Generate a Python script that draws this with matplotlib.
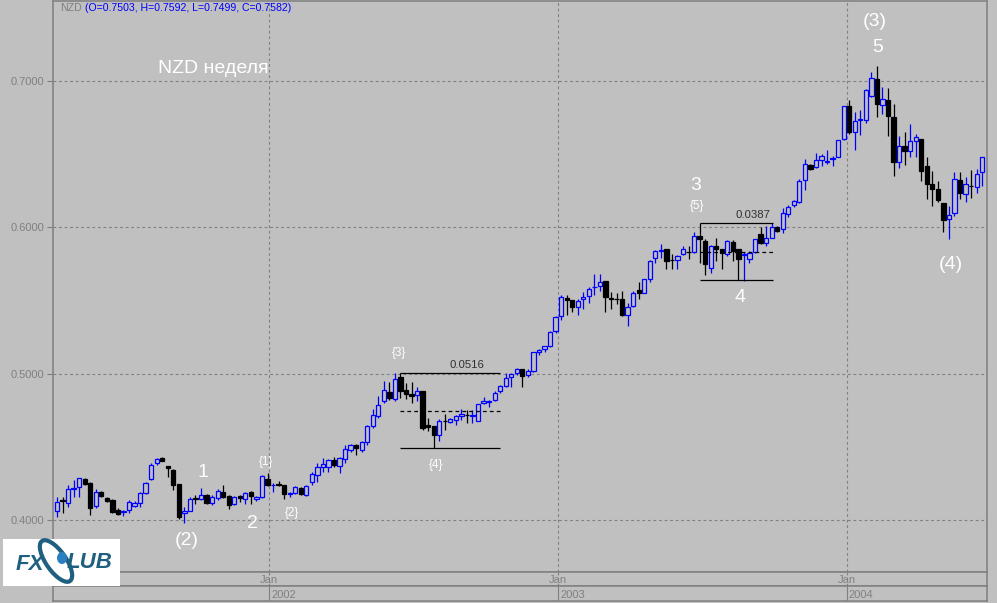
import matplotlib
matplotlib.use("Agg")
import matplotlib.pyplot as plt
import matplotlib.dates as mdates
import numpy as np
from matplotlib.patches import Rectangle, Ellipse

plt.rcParams["font.family"] = ["Liberation Sans", "DejaVu Sans"]

BG = "#C0C0C0"
GRAY = "#808080"
BLUE = "#0000FF"

# weekly NZD bars, first bar dated 2001-04-08
start = np.datetime64("2001-04-08")

opens = [
    .4064, .4135, .4119, .4212, .4228, .4281, .4251, .4096, .4194, .4153,
    .4137, .4068, .4057, .4068, .4096, .4114, .4183, .4279, .4388, .4422,
    .4370, .4342, .4245, .4046, .4064, .4150, .4144, .4171, .4119, .4149,
    .4190, .4164, .4108, .4166, .4142, .4190, .4144, .4156, .4279, .4236,
    .4245, .4240, .4180, .4187, .4217, .4171, .4262, .4308, .4365, .4365,
    .4411, .4370, .4420, .4475, .4514, .4480, .4530, .4639, .4708, .4810,
    .4872, .4827, .4975, .4886, .4863, .4856, .4884, .4651, .4644, .4582,
    .4680, .4673, .4685, .4708, .4720, .4710, .4680, .4799, .4808, .4817,
    .4879, .4918, .4974, .5005, .5032, .4993, .5021, .5146, .5168, .5187,
    .5290, .5393, .5519, .5502, .5457, .5513, .5530, .5590, .5598, .5632,
    .5516, .5510, .5507, .5404, .5461, .5569, .5553, .5644, .5792, .5836,
    .5850, .5776, .5776, .5815, .5834, .5831, .5941, .5906, .5724, .5872,
    .5850, .5815, .5900, .5850, .5812, .5781, .5831, .5952, .5890, .5930,
    .6005, .5986, .6090, .6150, .6174, .6324, .6425, .6413, .6459, .6448,
    .6468, .6478, .6603, .6827, .6653, .6735, .6735, .6900, .7014, .6839,
    .6870, .6752, .6448, .6553, .6523, .6587, .6603, .6416, .6295, .6261,
    .6169, .6056, .6101, .6322, .6231, .6286, .6279, .6375,
]
highs = [
    .4160, .4160, .4240, .4274, .4290, .4290, .4260, .4210, .4200, .4160,
    .4142, .4082, .4070, .4137, .4130, .4194, .4260, .4390, .4425, .4432,
    .4370, .4350, .4245, .4091, .4160, .4171, .4217, .4180, .4170, .4210,
    .4240, .4170, .4165, .4170, .4190, .4197, .4165, .4310, .4320, .4250,
    .4265, .4240, .4190, .4230, .4225, .4240, .4325, .4388, .4423, .4418,
    .4432, .4430, .4513, .4521, .4519, .4537, .4651, .4760, .4849, .4947,
    .4940, .5004, .5005, .4935, .4943, .4910, .4884, .4697, .4644, .4690,
    .4724, .4700, .4720, .4760, .4750, .4750, .4792, .4840, .4820, .4880,
    .4925, .5005, .5005, .5040, .5032, .5030, .5150, .5171, .5192, .5290,
    .5395, .5541, .5541, .5502, .5510, .5555, .5595, .5678, .5678, .5632,
    .5560, .5550, .5564, .5480, .5564, .5628, .5650, .5774, .5845, .5884,
    .5850, .5815, .5809, .5870, .5870, .5971, .5952, .5918, .5877, .5930,
    .5854, .5911, .5911, .5854, .5830, .5840, .5923, .6005, .6010, .6030,
    .6010, .6130, .6150, .6185, .6330, .6466, .6430, .6507, .6500, .6530,
    .6485, .6596, .6830, .6873, .6790, .6800, .6946, .7060, .7101, .6957,
    .6950, .6843, .6622, .6653, .6706, .6640, .6603, .6484, .6386, .6317,
    .6169, .6146, .6375, .6375, .6347, .6393, .6398, .6484,
]
lows = [
    .4018, .4046, .4091, .4160, .4155, .4240, .4034, .4082, .4160, .4125,
    .4050, .4034, .4030, .4046, .4092, .4092, .4180, .4274, .4377, .4400,
    .4297, .4205, .4005, .3977, .4060, .4108, .4140, .4110, .4100, .4140,
    .4150, .4075, .4100, .4120, .4110, .4110, .4130, .4150, .4230, .4190,
    .4230, .4145, .4160, .4180, .4170, .4165, .4240, .4262, .4327, .4327,
    .4365, .4323, .4390, .4468, .4441, .4468, .4514, .4628, .4696, .4801,
    .4822, .4815, .4834, .4827, .4799, .4810, .4612, .4605, .4489, .4543,
    .4616, .4660, .4650, .4685, .4660, .4665, .4676, .4790, .4770, .4810,
    .4870, .4912, .4910, .4990, .4910, .4976, .5010, .5130, .5150, .5180,
    .5276, .5365, .5404, .5424, .5404, .5441, .5486, .5541, .5568, .5420,
    .5439, .5475, .5393, .5324, .5457, .5507, .5550, .5625, .5755, .5792,
    .5713, .5713, .5718, .5809, .5786, .5827, .5758, .5671, .5689, .5770,
    .5718, .5806, .5770, .5641, .5633, .5755, .5827, .5883, .5873, .5925,
    .5970, .5960, .6073, .6142, .6165, .6256, .6395, .6409, .6420, .6432,
    .6416, .6478, .6597, .6637, .6530, .6630, .6710, .6890, .6754, .6774,
    .6626, .6348, .6409, .6425, .6478, .6478, .6317, .6192, .6146, .6174,
    .5968, .5922, .6078, .6192, .6174, .6199, .6233, .6283,
]
closes = [
    .4121, .4130, .4210, .4220, .4286, .4247, .4084, .4194, .4166, .4130,
    .4057, .4041, .4062, .4125, .4114, .4183, .4251, .4377, .4416, .4406,
    .4354, .4240, .4018, .4062, .4142, .4146, .4171, .4119, .4156, .4199,
    .4160, .4103, .4160, .4149, .4183, .4164, .4156, .4301, .4240, .4242,
    .4240, .4176, .4187, .4224, .4178, .4233, .4313, .4365, .4382, .4411,
    .4377, .4423, .4484, .4514, .4491, .4532, .4644, .4719, .4788, .4891,
    .4834, .4966, .4880, .4861, .4845, .4884, .4628, .4635, .4582, .4678,
    .4676, .4690, .4708, .4726, .4715, .4720, .4792, .4815, .4815, .4868,
    .4918, .4971, .4998, .5032, .4986, .5021, .5146, .5164, .5187, .5286,
    .5389, .5526, .5502, .5454, .5495, .5527, .5580, .5594, .5628, .5522,
    .5512, .5507, .5404, .5457, .5553, .5553, .5644, .5769, .5838, .5845,
    .5769, .5774, .5804, .5854, .5831, .5941, .5922, .5747, .5872, .5850,
    .5822, .5906, .5838, .5786, .5818, .5827, .5923, .5890, .5924, .6005,
    .5975, .6101, .6142, .6180, .6318, .6430, .6402, .6459, .6485, .6452,
    .6472, .6596, .6827, .6653, .6728, .6740, .6941, .7019, .6843, .6876,
    .6758, .6448, .6553, .6523, .6587, .6615, .6386, .6295, .6261, .6187,
    .6050, .6086, .6329, .6237, .6295, .6283, .6363, .6478,
]

y_ticks = [0.4, 0.5, 0.6, 0.7]
years = [2002, 2003, 2004]

# fib boxes: start bar, end bar, high, low, label, label bar, label price
fibs = [
    (62, 80.0, 0.5005, 0.4489, "0.0516", 74.0, 0.5057),
    (116, 129.2, 0.6028, 0.5641, "0.0387", 125.6, 0.6084),
]

# wave labels: text, bar position, price, size
waves = [
    ("(2)", 23.5, 0.3863, 14), ("1", 26.35, 0.4322, 14),
    ("2", 35.2, 0.3973, 14), ("{1}", 37.7, 0.4397, 8.5),
    ("{2}", 42.4, 0.4048, 8.5), ("{3}", 61.7, 0.5144, 8.5),
    ("{4}", 68.4, 0.4377, 8.5), ("3", 115.2, 0.6288, 14),
    ("{5}", 115.5, 0.6144, 8.5), ("4", 123.3, 0.5521, 14),
    ("(3)", 147.6, 0.7404, 14), ("5", 148.2, 0.7226, 14),
    ("(4)", 161.4, 0.5747, 14),
]

o, h, l, c = (np.array(a) for a in (opens, highs, lows, closes))
n = len(o)
dates = start + np.arange(n) * np.timedelta64(7, "D")
x = mdates.date2num(dates)
x0 = x[0]


def bx(i):
    return x0 + 7 * i


W, H = 997, 603
fig = plt.figure(figsize=(W / 100, H / 100), dpi=100, facecolor=BG)


def box(px0, py0, px1, py1):
    return [px0 / W, 1 - py1 / H, (px1 - px0) / W, (py1 - py0) / H]


ax = fig.add_axes(box(53, 1, 987, 572))
ax_m = fig.add_axes(box(53, 572, 987, 586))
ax_y = fig.add_axes(box(53, 586, 987, 601))

xlim = (bx(-0.72), bx(167.87))
for a in (ax, ax_m, ax_y):
    a.set_facecolor(BG)
    a.set_xlim(*xlim)
    for s in a.spines.values():
        s.set_color(GRAY)
        s.set_linewidth(1.1)

ax.set_ylim(0.36446, 0.7547)

# candles
up = c >= o
col = np.where(up, BLUE, "black")
ax.vlines(x, l, h, colors=col, lw=0.9, zorder=3)
ax.bar(x, np.abs(c - o), bottom=np.minimum(o, c), width=5.4,
       color=np.where(up, BG, "black"), edgecolor=col, lw=0.9, zorder=4)

# grid
jan = mdates.date2num([np.datetime64(f"{y}-01-01") for y in years])
ax.set_yticks(y_ticks)
ax.set_yticklabels([f"{v:.4f}" for v in y_ticks])
ax.set_xticks(jan)
ax.set_xticklabels([])
ax.tick_params(axis="x", length=0)
ax.tick_params(axis="y", length=4.5, color=GRAY, labelcolor=GRAY,
               labelsize=8, pad=1.5, width=0.8)
ax.grid(True, color=GRAY, linestyle=(0, (2.5, 2.5)), linewidth=0.8, zorder=1)
ax.set_axisbelow(True)

# fib boxes
for s, e, hi, lo, lab, lx, ly in fibs:
    ax.hlines([hi, lo], bx(s), bx(e), colors="black", lw=0.9, zorder=5)
    ax.hlines((hi + lo) / 2, bx(s), bx(e), colors="black", lw=0.9,
              linestyles=(0, (3, 2.5)), zorder=5)
    ax.vlines(bx(s), h[s], hi, colors="black", lw=0.9, zorder=5)
    ax.text(bx(lx), ly, lab, color="#303030", fontsize=8.2,
            ha="center", va="center", zorder=6)

for t, i, p, fs in waves:
    ax.text(bx(i), p, t, color="white", fontsize=fs, ha="center",
            va="center", zorder=6)

ax.text(bx(28.2), 0.7083, "NZD неделя", color="white", fontsize=14,
        ha="center", va="center", zorder=6)

# date rows
for a in (ax_m, ax_y):
    a.set_ylim(0, 1)
    a.set_xticks([])
    a.set_yticks([])
for xd, y in zip(jan, years):
    ax_m.axvline(xd, color=GRAY, linestyle=(0, (2.5, 2.5)), lw=0.8)
    ax_m.text(xd, 0.4, "Jan", color=GRAY, fontsize=8, ha="center",
              va="center")
    ax_y.axvline(xd, color=GRAY, lw=0.8)
    ax_y.text(xd + 2.5, 0.4, str(y), color=GRAY, fontsize=8, ha="left",
              va="center")

# header
fig.text(60 / W, 1 - 8 / H, "NZD", color=GRAY, fontsize=7.6, va="center")
fig.text(85 / W, 1 - 8 / H, "(O=0.7503, H=0.7592, L=0.7499, C=0.7582)",
         color=BLUE, fontsize=7.6, va="center")

# logo
fig.patches.append(Rectangle((3 / W, 1 - 586 / H), 117 / W, 47 / H,
                             transform=fig.transFigure, facecolor="white",
                             edgecolor="none", zorder=10))
fig.patches.append(Ellipse((56 / W, 1 - 561 / H), 22 / W, 44 / H,
                           angle=20, transform=fig.transFigure,
                           facecolor="none", edgecolor="#1F5F80", lw=3,
                           zorder=11))
fig.text(30 / W, 1 - 565 / H, "FX", color="#1F5F80", fontsize=16,
         fontweight="bold", fontstyle="italic", ha="center", va="center",
         zorder=12)
fig.text(90 / W, 1 - 563 / H, "LUB", color="#1F5F80", fontsize=16,
         fontweight="bold", fontstyle="italic", ha="center", va="center",
         zorder=12)
fig.patches.append(Ellipse((62 / W, 1 - 558 / H), 10 / W, 12 / H,
                           transform=fig.transFigure, facecolor="#2A7FC0",
                           edgecolor="none", zorder=12))

fig.savefig("out.png", dpi=100, facecolor=BG)
